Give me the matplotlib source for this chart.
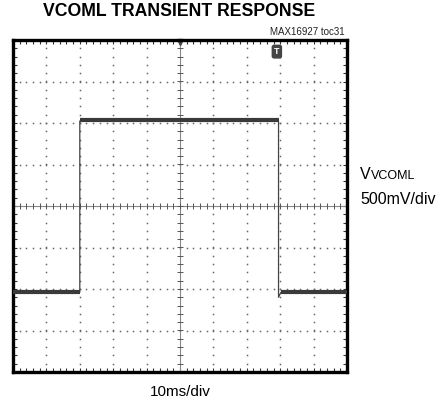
import matplotlib

matplotlib.use("Agg")
import matplotlib.pyplot as plt
import numpy as np
from matplotlib.ticker import MultipleLocator

plt.rcParams["font.family"] = ["Liberation Sans", "DejaVu Sans"]

# scope screen in divisions: 10 horizontal (10ms/div), 8 vertical (500mV/div)
N_XDIV = 10
N_YDIV = 8

# trace, in divisions (time, level)
trace_t = [0.0, 2.0, 2.0, 7.95, 7.95, 8.02, 10.0]
trace_v = [-2.08, -2.08, 2.05, 2.05, -2.2, -2.08, -2.08]

# flat (noisy) parts of the trace
flat_segments = [
    ([0.0, 2.0], [-2.08, -2.08]),
    ([2.0, 7.95], [2.07, 2.07]),
    ([8.02, 10.0], [-2.08, -2.08]),
]

TRIGGER_POS = (7.9, 3.72)

W, H = 439, 408


def px(x, y):
    return x / W, 1 - y / H


fig = plt.figure(figsize=(W / 100, H / 100), dpi=100)
left, top, right, bottom = 13, 40, 347, 372
ax = fig.add_axes([left / W, 1 - bottom / H, (right - left) / W, (bottom - top) / H])
ax.set_xlim(0, N_XDIV)
ax.set_ylim(-N_YDIV / 2, N_YDIV / 2)

# frame with inward ticks on every side
for s in ax.spines.values():
    s.set_linewidth(2.4)
    s.set_color("black")
ax.xaxis.set_major_locator(MultipleLocator(1))
ax.xaxis.set_minor_locator(MultipleLocator(0.2))
ax.yaxis.set_major_locator(MultipleLocator(1))
ax.yaxis.set_minor_locator(MultipleLocator(0.2))
ax.tick_params(which="both", direction="in", length=3, width=0.8, color="#333333",
               top=True, right=True, labelbottom=False, labelleft=False)

# dotted graticule
minor_x = np.arange(0, N_XDIV + 0.01, 0.2)
minor_y = np.arange(-N_YDIV / 2, N_YDIV / 2 + 0.01, 0.2)
for gx in range(1, N_XDIV):
    if gx == N_XDIV // 2:
        continue
    ax.plot(np.full_like(minor_y, gx), minor_y, ls="none", marker="s", ms=1.1,
            mew=0, color="#666666")
for gy in range(-N_YDIV // 2 + 1, N_YDIV // 2):
    if gy == 0:
        continue
    ax.plot(minor_x, np.full_like(minor_x, gy), ls="none", marker="s", ms=1.1,
            mew=0, color="#666666")

# centre axes with cross ticks
ax.axhline(0, color="#888888", lw=0.8)
ax.axvline(N_XDIV / 2, color="#888888", lw=0.8)
ax.plot(minor_x, np.zeros_like(minor_x), ls="none", marker="|", ms=4, mew=0.7, color="#555555")
ax.plot(np.full_like(minor_y, N_XDIV / 2), minor_y, ls="none", marker="_", ms=4, mew=0.7,
        color="#555555")

# trigger marker at top centre
ax.plot([N_XDIV / 2], [N_YDIV / 2 - 0.05], marker="v", ms=4, color="#444444", clip_on=False)

# trace
ax.plot(trace_t, trace_v, color="#444444", lw=0.9, zorder=5)
for st, sv in flat_segments:
    ax.plot(st, sv, color="#3a3a3a", lw=3.0, solid_capstyle="butt", zorder=6)

ax.text(TRIGGER_POS[0], TRIGGER_POS[1], "T", color="white", fontsize=6.5, fontweight="bold",
        ha="center", va="center", zorder=7,
        bbox=dict(boxstyle="round,pad=0.2", fc="#444444", ec="#444444"))

# texts
fig.text(*px(179, 12), "VCOML TRANSIENT RESPONSE", fontsize=12.7, fontweight="bold",
         ha="center", va="center")
fig.text(*px(345, 32), "MAX16927 toc31", fontsize=7, ha="right", va="center", color="#222222")
fig.text(*px(360, 179), "V", fontsize=11.5, ha="left", va="baseline")
fig.text(*px(371, 179), "VCOML", fontsize=9, ha="left", va="baseline")
fig.text(*px(360, 204), "500mV/div", fontsize=11.5, ha="left", va="baseline")
fig.text(*px(180, 392), "10ms/div", fontsize=11, ha="center", va="center")

fig.savefig("out.png", dpi=100)
